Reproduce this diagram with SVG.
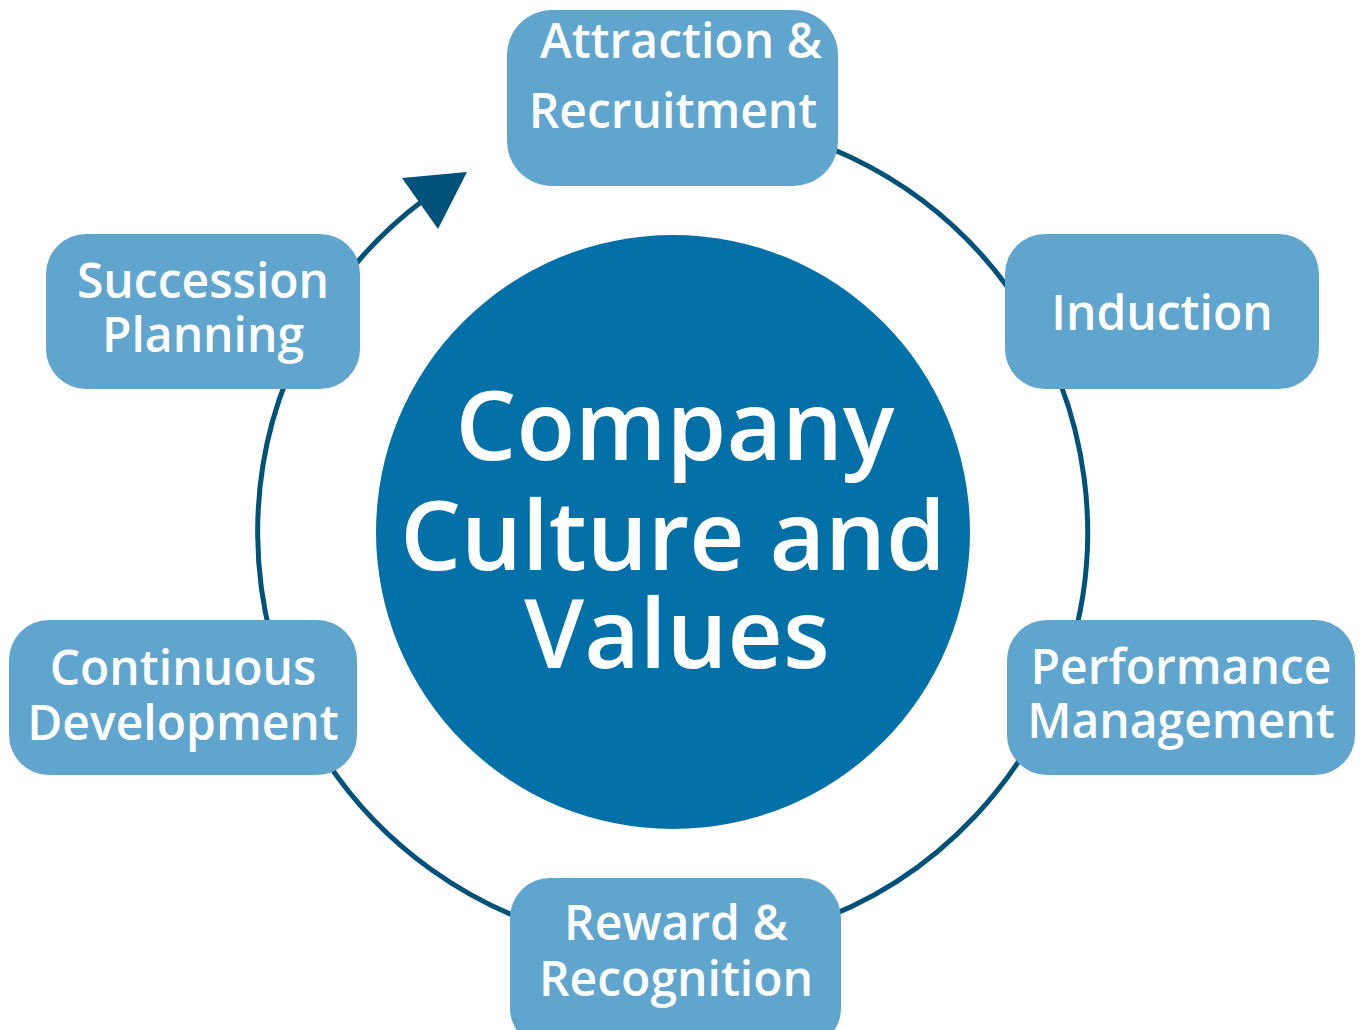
<svg xmlns="http://www.w3.org/2000/svg" width="1363" height="1030" viewBox="0 0 1363 1030">
<style>
.box{fill:#5fa5ce}
.lbl{font-family:"Open Sans","Liberation Sans",sans-serif;font-weight:600;font-size:48px;fill:#fff;text-anchor:middle}
.big{font-family:"Open Sans","Liberation Sans",sans-serif;font-weight:600;font-size:96px;fill:#fff;text-anchor:middle}
.ring{fill:none;stroke:#01527a;stroke-width:5}
</style>
<rect width="1363" height="1030" fill="#fff"/>
<g id="connectors">
<path class="ring" d="M 673 117 A 415 415 0 1 1 425 199"/>
<polygon points="402,178 467,172 438,229" fill="#01527a"/>
</g>
<g id="center">
<circle cx="673" cy="532" r="297" fill="#0470a8"/>
<text class="big" x="675" y="460">Company</text>
<text class="big" x="673" y="570">Culture and</text>
<text class="big" x="677" y="668">Values</text>
</g>
<g id="attraction">
<rect class="box" x="507" y="10" width="331" height="176" rx="45"/>
<text class="lbl" x="681" y="58">Attraction &amp;</text>
<text class="lbl" x="673" y="128">Recruitment</text>
</g>
<g id="induction">
<rect class="box" x="1005" y="234" width="314" height="155" rx="40"/>
<text class="lbl" x="1162" y="330">Induction</text>
</g>
<g id="performance">
<rect class="box" x="1007" y="620" width="348" height="155" rx="40"/>
<text class="lbl" x="1181" y="684">Performance</text>
<text class="lbl" x="1181" y="738">Management</text>
</g>
<g id="reward">
<rect class="box" x="510" y="878" width="331" height="170" rx="40"/>
<text class="lbl" x="676" y="940">Reward &amp;</text>
<text class="lbl" x="676" y="996">Recognition</text>
</g>
<g id="continuous">
<rect class="box" x="9" y="620" width="348" height="155" rx="40"/>
<text class="lbl" x="183" y="685">Continuous</text>
<text class="lbl" x="183" y="740">Development</text>
</g>
<g id="succession">
<rect class="box" x="46" y="234" width="314" height="155" rx="40"/>
<text class="lbl" x="203" y="298">Succession</text>
<text class="lbl" x="203" y="352">Planning</text>
</g>
</svg>
